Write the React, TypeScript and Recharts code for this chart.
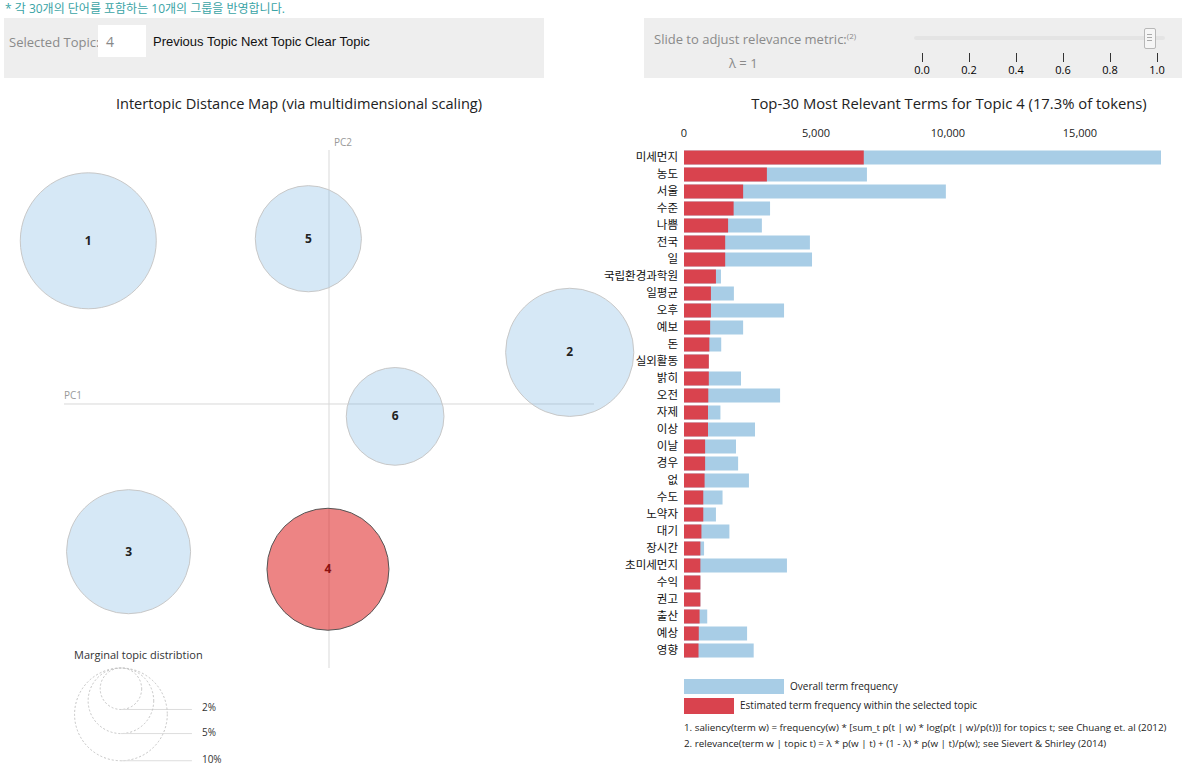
import React from 'react';
import { ScatterChart, Scatter, XAxis, YAxis, ZAxis, ReferenceLine, BarChart, Bar } from 'recharts';

// intertopic map (MDS coordinates, marginal share in %)
const topicIds = ['1', '2', '3', '4', '5', '6'];
const topicPC1 = [-0.233, 0.233, -0.194, -0.001, -0.02, 0.064];
const topicPC2 = [0.158, 0.05, -0.143, -0.16, 0.16, -0.012];
const topicShare = [21.5, 19.1, 17.9, 17.3, 13.1, 11.1];
const selectedTopic = '4';

const legendShares = [2, 5, 10];

// top-30 terms for topic 4
const terms = [
  '미세먼지', '농도', '서울', '수준', '나쁨', '전국', '일', '국립환경과학원', '일평균', '오후',
  '예보', '돈', '실외활동', '밝히', '오전', '자제', '이상', '이날', '경우', '없',
  '수도', '노약자', '대기', '장시간', '초미세먼지', '수익', '권고', '출산', '예상', '영향',
];
const totalFreq = [
  18070, 6930, 9920, 3260, 2950, 4770, 4850, 1400, 1890, 3790,
  2240, 1410, 940, 2160, 3640, 1380, 2690, 1970, 2050, 2460,
  1460, 1210, 1720, 760, 3900, 620, 620, 880, 2390, 2640,
];
const topicFreq = [
  6810, 3140, 2240, 1880, 1670, 1560, 1560, 1210, 1020, 1020,
  990, 960, 940, 940, 920, 910, 910, 800, 800, 780,
  730, 730, 660, 620, 620, 620, 620, 590, 560, 550,
];
const xTicks = [0, 5000, 10000, 15000];
const sliderTicks = ['0.0', '0.2', '0.4', '0.6', '0.8', '1.0'];

const FONT = "'Open Sans', 'Noto Sans CJK KR', sans-serif";

const topics = topicIds.map((id, i) => ({ id, x: topicPC1[i], y: topicPC2[i], share: topicShare[i] }));
const legendPoints = legendShares.map((s) => ({ x: -0.2014, y: -0.2556, share: s }));
const rows = terms.map((term, i) => ({ term, total: totalFreq[i], topic: topicFreq[i] }));

const TopicBubble = (props: any) => {
  const { cx, cy, width, payload } = props;
  const r = width / 2;
  const sel = payload.id === selectedTopic;
  return (
    <g>
      <circle
        cx={cx}
        cy={cy}
        r={r}
        fill={sel ? '#dc0a0a' : '#6aaee0'}
        fillOpacity={sel ? 0.5 : 0.28}
        stroke={sel ? '#555' : '#c8c8c8'}
        strokeWidth={1}
      />
      <text x={cx} y={cy + 4} textAnchor="middle" fontSize={12} fontWeight="bold" fill={sel ? '#8b1010' : '#222'} fontFamily={FONT}>
        {payload.id}
      </text>
    </g>
  );
};

const LegendBubble = (props: any) => {
  const { cx, cy, width, payload } = props;
  const r = width / 2;
  const bottom = cy + 2 * r;
  return (
    <g>
      <circle cx={cx} cy={cy + r} r={r} fill="none" stroke="#c4c4c4" strokeDasharray="2 2" />
      <line x1={cx} y1={bottom} x2={cx + 71} y2={bottom} stroke="#ddd" />
      <text x={cx + 81} y={bottom + 2} fontSize={10} fill="#333" fontFamily={FONT}>
        {payload.share}%
      </text>
    </g>
  );
};

const abs = (left: number, top: number, extra: any = {}) => ({ position: 'absolute' as const, left, top, ...extra });

export default function App() {
  return (
    <div style={{ position: 'absolute', left: 0, top: 0, width: 1185, height: 769, overflow: 'hidden', background: '#fff', fontFamily: FONT }}>
      <div style={abs(5, 1, { fontSize: 12, lineHeight: '15px', color: '#3aa4a6' })}>* 각 30개의 단어를 포함하는 10개의 그룹을 반영합니다.</div>

      {/* topic selector */}
      <div style={abs(4, 18, { width: 540, height: 60, background: '#eeeeee' })} />
      <div style={abs(9, 33, { fontSize: 13, lineHeight: '18px', color: '#8a8a8a' })}>Selected Topic:</div>
      <div style={abs(98, 25, { width: 48, height: 32, background: '#fff' })} />
      <div style={abs(106, 33, { fontSize: 14, lineHeight: '18px', color: '#888' })}>4</div>
      <div style={abs(153, 33, { fontSize: 13, lineHeight: '18px', color: '#111', fontFamily: "'Liberation Sans', Arial, sans-serif" })}>
        Previous Topic Next Topic Clear Topic
      </div>

      {/* relevance slider */}
      <div style={abs(644, 18, { width: 538, height: 60, background: '#eeeeee' })} />
      <div style={abs(654, 27, { fontSize: 13, lineHeight: '18px', color: '#8a8a8a' })}>
        Slide to adjust relevance metric:<sup style={{ fontSize: 8 }}>(2)</sup>
      </div>
      <div style={abs(729, 54, { fontSize: 13, lineHeight: '18px', color: '#8a8a8a' })}>λ = 1</div>
      <div style={abs(914, 36, { width: 251, height: 4, background: '#e4e4e4', borderRadius: 2 })} />
      <div style={abs(1144, 28, { width: 10, height: 19, background: '#f6f6f6', border: '1px solid #b8b8b8', borderRadius: 2 })} />
      {[0, 1, 2].map((k) => (
        <div key={k} style={abs(1147, 34 + k * 3, { width: 5, height: 1, background: '#aaa' })} />
      ))}
      {sliderTicks.map((t, i) => (
        <React.Fragment key={t}>
          <div style={abs(922 + i * 47, 53, { width: 1, height: 9, background: '#333' })} />
          <div style={abs(922 + i * 47 - 15, 63, { width: 30, textAlign: 'center', fontSize: 11, lineHeight: '14px', color: '#000' })}>{t}</div>
        </React.Fragment>
      ))}

      {/* titles */}
      <div style={abs(0, 93, { width: 598, textAlign: 'center', fontSize: 14.6, lineHeight: '20px', color: '#222' })}>
        Intertopic Distance Map (via multidimensional scaling)
      </div>
      <div style={abs(700, 93, { width: 498, textAlign: 'center', fontSize: 14.8, lineHeight: '20px', color: '#222' })}>
        Top-30 Most Relevant Terms for Topic 4 (17.3% of tokens)
      </div>

      {/* intertopic distance map */}
      <div style={abs(0, 0)}>
        <ScatterChart width={640} height={769} margin={{ top: 150, right: 46, bottom: 101, left: 64 }}>
          <XAxis type="number" dataKey="x" domain={[-0.2565, 0.2565]} hide />
          <YAxis type="number" dataKey="y" domain={[-0.2556, 0.2459]} hide />
          <ZAxis type="number" dataKey="share" domain={[0, 100]} range={[0, 67544]} />
          <ReferenceLine x={0} stroke="#d9d9d9" />
          <ReferenceLine y={0} stroke="#d9d9d9" />
          <Scatter data={topics} shape={TopicBubble} isAnimationActive={false} />
          <Scatter data={legendPoints} shape={LegendBubble} isAnimationActive={false} />
        </ScatterChart>
      </div>
      <div style={abs(334, 135, { fontSize: 10, lineHeight: '14px', color: '#999' })}>PC2</div>
      <div style={abs(64, 388, { fontSize: 10, lineHeight: '14px', color: '#999' })}>PC1</div>
      <div style={abs(74, 648, { fontSize: 11, lineHeight: '14px', color: '#333' })}>Marginal topic distribtion</div>

      {/* relevant terms bar chart */}
      <div style={abs(560, 110)}>
        <BarChart
          layout="vertical"
          width={625}
          height={560}
          data={rows}
          margin={{ top: 18.5, right: 24, bottom: 11.5, left: 4 }}
          barSize={14}
          barGap={-14}
        >
          <XAxis
            type="number"
            orientation="top"
            domain={[0, 18070]}
            ticks={xTicks}
            allowDataOverflow
            height={20}
            axisLine={false}
            tickLine={false}
            tickSize={0}
            tickMargin={12}
            tick={{ fontSize: 11, fill: '#222', fontFamily: FONT }}
            tickFormatter={(v: number) => v.toLocaleString('en-US')}
          />
          <YAxis
            type="category"
            dataKey="term"
            width={120}
            axisLine={false}
            tickLine={false}
            tickSize={0}
            tickMargin={6}
            interval={0}
            tick={{ fontSize: 11.5, fill: '#111', fontFamily: FONT }}
          />
          <Bar dataKey="total" fill="#a8cde6" isAnimationActive={false} />
          <Bar dataKey="topic" fill="#d9434e" isAnimationActive={false} />
        </BarChart>
      </div>

      {/* bar legend and notes */}
      <div style={abs(684, 679, { width: 100, height: 15, background: '#a8cde6' })} />
      <div style={abs(790, 679, { fontSize: 10, lineHeight: '14px', color: '#222' })}>Overall term frequency</div>
      <div style={abs(684, 698, { width: 50, height: 16, background: '#d9434e' })} />
      <div style={abs(740, 698, { fontSize: 10, lineHeight: '14px', color: '#222' })}>Estimated term frequency within the selected topic</div>
      <div style={abs(684, 721, { fontSize: 9.8, lineHeight: '14px', color: '#222', whiteSpace: 'nowrap' })}>
        1. saliency(term w) = frequency(w) * [sum_t p(t | w) * log(p(t | w)/p(t))] for topics t; see Chuang et. al (2012)
      </div>
      <div style={abs(684, 737, { fontSize: 9.8, lineHeight: '14px', color: '#222', whiteSpace: 'nowrap' })}>
        2. relevance(term w | topic t) = λ * p(w | t) + (1 - λ) * p(w | t)/p(w); see Sievert &amp; Shirley (2014)
      </div>
    </div>
  );
}
